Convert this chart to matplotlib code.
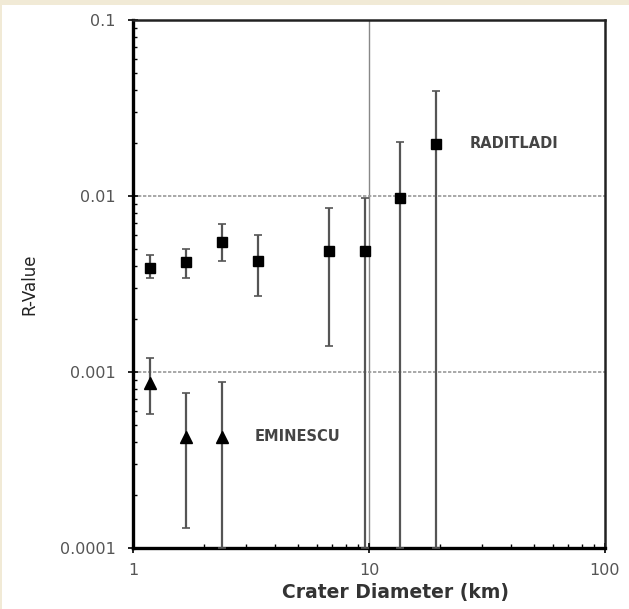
import numpy as np
import matplotlib.pyplot as plt
from matplotlib.patches import Rectangle
from matplotlib.ticker import LogLocator, FixedLocator, FixedFormatter

plt.rcParams['font.family'] = ['DejaVu Sans']

# Raditladi crater counts (squares)
rad_d = [1.18, 1.68, 2.38, 3.39, 6.77, 9.6, 13.5, 19.2]
rad_r = [0.0039, 0.0042, 0.0055, 0.0043, 0.0049, 0.0049, 0.0097, 0.0198]
rad_hi = [0.0046, 0.0050, 0.0069, 0.0060, 0.0085, 0.0098, 0.0202, 0.0397]
rad_lo = [0.0034, 0.0034, 0.0043, 0.0027, 0.0014, 0.0001, 0.0001, 0.0001]

# Eminescu crater counts (triangles)
emi_d = [1.18, 1.68, 2.38]
emi_r = [0.00087, 0.00043, 0.00043]
emi_hi = [0.0012, 0.00076, 0.00088]
emi_lo = [0.00058, 0.00013, 0.0001]

x_ticks = [1, 10, 100]
x_labels = ['1', '10', '100']
y_ticks = [0.0001, 0.001, 0.01, 0.1]
y_labels = ['0.0001', '0.001', '0.01', '0.1']

fig = plt.figure(figsize=(6.29, 6.09), dpi=100)
fig.patch.set_facecolor('white')
# beige frame strip along top and left edge
fig.patches.append(Rectangle((0, 0.992), 1, 0.008, transform=fig.transFigure,
                             facecolor='#f1ead6', edgecolor='none'))
fig.patches.append(Rectangle((0, 0), 0.003, 1, transform=fig.transFigure,
                             facecolor='#f1ead6', edgecolor='none'))

ax = fig.add_axes([0.2115, 0.1002, 0.7503, 0.8668])
ax.set_xscale('log')
ax.set_yscale('log')
ax.set_xlim(1, 100)
ax.set_ylim(0.0001, 0.1)

# grid lines
ax.axvline(10, color='#888888', lw=1.0, zorder=1)
for yv in [0.001, 0.01]:
    ax.axhline(yv, color='#999999', lw=1.2, ls=(0, (2, 1)), zorder=1)


def draw(d, r, lo, hi, marker, ms):
    d = np.array(d)
    r = np.array(r)
    yerr = [r - np.array(lo), np.array(hi) - r]
    ax.errorbar(d, r, yerr=yerr, fmt=marker, color='black', ms=ms,
                ecolor='#555555', elinewidth=1.6, capsize=3, capthick=1.2,
                zorder=3)


draw(rad_d, rad_r, rad_lo, rad_hi, 's', 7)
draw(emi_d, emi_r, emi_lo, emi_hi, '^', 8)

ax.text(26.8, 0.0198, 'RADITLADI', fontsize=10.5, fontweight='bold',
        color='#444444', va='center', ha='left')
ax.text(3.29, 0.00043, 'EMINESCU', fontsize=10.5, fontweight='bold',
        color='#444444', va='center', ha='left')

ax.xaxis.set_major_locator(FixedLocator(x_ticks))
ax.xaxis.set_major_formatter(FixedFormatter(x_labels))
ax.yaxis.set_major_locator(FixedLocator(y_ticks))
ax.yaxis.set_major_formatter(FixedFormatter(y_labels))
ax.xaxis.set_minor_locator(LogLocator(base=10, subs=np.arange(2, 10)))
ax.yaxis.set_minor_locator(LogLocator(base=10, subs=np.arange(2, 10)))
ax.xaxis.set_minor_formatter(plt.NullFormatter())
ax.yaxis.set_minor_formatter(plt.NullFormatter())

ax.tick_params(which='major', direction='inout', length=7, width=1.2,
               labelsize=11.5, labelcolor='#555555', top=False, right=False)
ax.tick_params(which='minor', direction='in', length=3, width=1.0,
               top=False, right=False)
ax.tick_params(axis='y', which='major', pad=9)
ax.tick_params(axis='x', which='major', pad=7)

for side in ['left', 'bottom']:
    ax.spines[side].set_linewidth(2.4)
for side in ['top', 'right']:
    ax.spines[side].set_linewidth(1.8)
    ax.spines[side].set_color('#222222')

ax.set_xlabel('Crater Diameter (km)', fontsize=13.5, fontweight='bold',
              color='#333333')
ax.xaxis.set_label_coords(0.557, -0.066)
ax.set_ylabel('R-Value', fontsize=12, color='#222222')
ax.yaxis.set_label_coords(-0.2, 0.5)

fig.savefig('out.png', dpi=100)
